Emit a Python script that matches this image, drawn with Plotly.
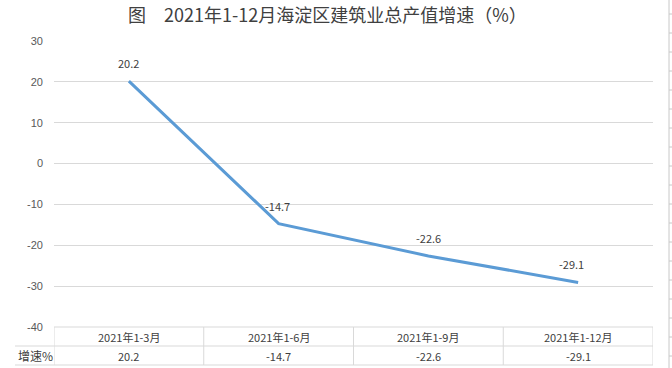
import plotly.graph_objects as go

categories = ["2021年1-3月", "2021年1-6月", "2021年1-9月", "2021年1-12月"]
growth = [20.2, -14.7, -22.6, -29.1]
y_ticks = [30, 20, 10, 0, -10, -20, -30, -40]
row_label = "增速%"
title_text = "图　2021年1-12月海淀区建筑业总产值增速（%）"

W, H = 672, 368
L, R, T, B = 54, 19, 41, 41
FONT = "Noto Sans CJK SC, Microsoft YaHei, sans-serif"

xs = [i + 0.5 for i in range(len(categories))]

fig = go.Figure()
fig.add_trace(go.Scatter(
    x=xs, y=growth, mode="lines",
    line=dict(color="#5B9BD5", width=3),
    cliponaxis=False, hoverinfo="skip", showlegend=False,
))

def px(x):
    return (x - L) / (W - L - R)

def py(y):
    return (H - B - y) / (H - T - B)

shapes = []
line_style = dict(color="#D9D9D9", width=1)
top, mid, bot = 327, 346, 365
left, right = 54, 653
shapes.append(dict(type="line", xref="paper", yref="paper", x0=px(left), x1=px(right), y0=py(top), y1=py(top), line=line_style))
shapes.append(dict(type="line", xref="paper", yref="paper", x0=px(15), x1=px(right), y0=py(mid), y1=py(mid), line=line_style))
shapes.append(dict(type="line", xref="paper", yref="paper", x0=px(15), x1=px(right), y0=py(bot), y1=py(bot), line=line_style))
for i in range(len(categories) + 1):
    shapes.append(dict(type="line", xref="x", yref="paper", x0=i, x1=i, y0=py(top), y1=py(bot), line=line_style))
shapes.append(dict(type="line", xref="paper", yref="paper", x0=px(669), x1=px(669), y0=py(0), y1=py(H), line=dict(color="#C8C8C8", width=1)))
for yy in range(14, H, 19):
    shapes.append(dict(type="line", xref="paper", yref="paper", x0=px(669), x1=px(672), y0=py(yy), y1=py(yy), line=dict(color="#C8C8C8", width=1)))

annotations = []
label_dx = [0, -1, 0, -7]
for x, v, dx in zip(xs, growth, label_dx):
    annotations.append(dict(x=x, xref="x", y=v, yref="y", text=f"{v:.1f}", showarrow=False,
                            font=dict(size=11, color="#404040", family=FONT),
                            xanchor="center", yanchor="middle", yshift=18, xshift=dx))
for x, c, v in zip(xs, categories, growth):
    annotations.append(dict(x=x, xref="x", y=py((top + mid) / 2), yref="paper", text=c, showarrow=False,
                            font=dict(size=11, color="#404040", family=FONT), xanchor="center", yanchor="middle"))
    annotations.append(dict(x=x, xref="x", y=py((mid + bot) / 2), yref="paper", text=f"{v:.1f}", showarrow=False,
                            font=dict(size=11, color="#404040", family=FONT), xanchor="center", yanchor="middle"))
annotations.append(dict(x=px(16), xref="paper", y=py((mid + bot) / 2), yref="paper", text=row_label, showarrow=False,
                        font=dict(size=12, color="#404040", family=FONT), xanchor="left", yanchor="middle"))
annotations.append(dict(x=px(327), xref="paper", y=py(14), yref="paper", text=title_text, showarrow=False,
                        font=dict(size=18, color="#404040", family=FONT), xanchor="center", yanchor="middle"))

fig.update_layout(
    width=W, height=H,
    margin=dict(l=L, r=R, t=T, b=B),
    paper_bgcolor="white", plot_bgcolor="white",
    shapes=shapes, annotations=annotations,
    xaxis=dict(range=[0, len(categories)], showgrid=False, zeroline=False, showticklabels=False,
               showline=False, fixedrange=True),
    yaxis=dict(range=[-40, 30], tickvals=y_ticks, ticktext=[str(t) for t in y_ticks],
               showgrid=True, gridcolor="#D9D9D9", gridwidth=1,
               zeroline=False, showline=False, ticks="", ticklabelstandoff=10,
               tickfont=dict(size=11, color="#595959", family="Liberation Sans, Arial, sans-serif")),
)

fig.write_html("out.html")
